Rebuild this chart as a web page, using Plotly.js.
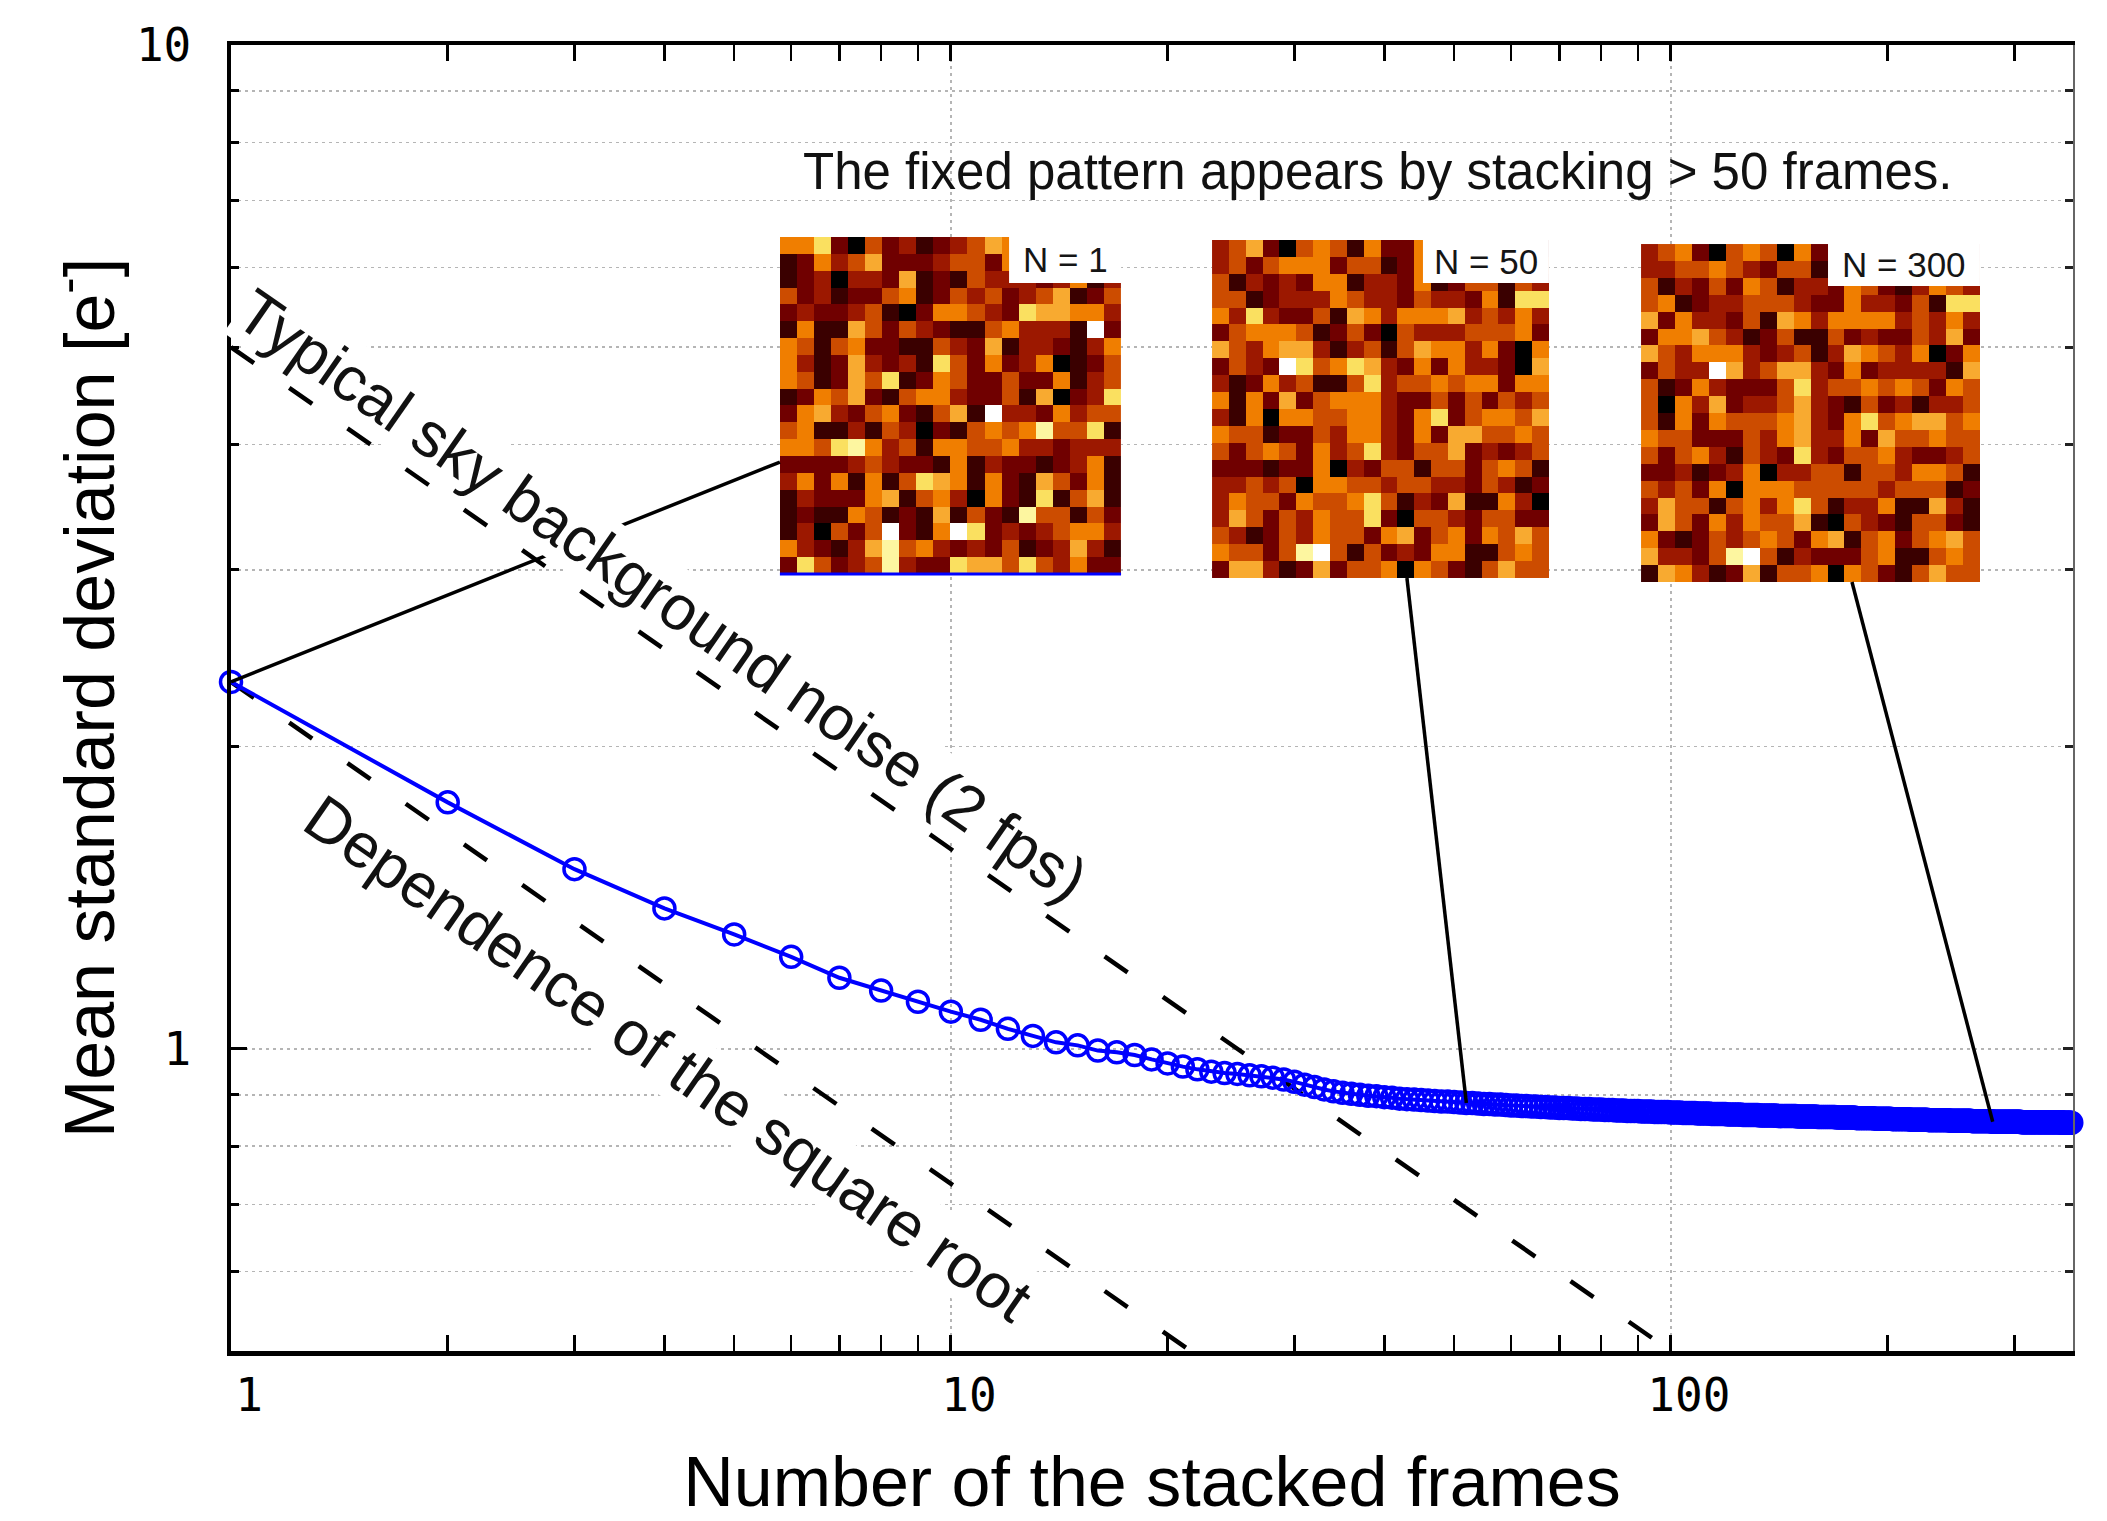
<!DOCTYPE html>
<html><head><meta charset="utf-8">
<script src="https://cdn.plot.ly/plotly-3.0.1.min.js"></script>
<style>html,body{margin:0;padding:0;background:#fff}#chart{width:2107px;height:1521px}</style>
</head><body><div id="chart"></div>
<script>
// ---------- data ----------
const meanStd = [
2.32,1.76,1.51,1.38,1.30,1.235,1.177,1.143,1.114,1.089,
1.069,1.047,1.030,1.015,1.008,0.996,0.992,0.986,0.976,0.967,
0.960,0.954,0.949,0.946,0.944,0.941,0.939,0.936,0.932,0.927,
0.921,0.916,0.911,0.907,0.904,0.902,0.900,0.898,0.897,0.895,
0.894,0.892,0.891,0.890,0.889,0.888,0.887,0.886,0.886,0.885,
0.884,0.883,0.883,0.882,0.881,0.881,0.880,0.880,0.879,0.878,
0.878,0.877,0.877,0.876,0.876,0.875,0.875,0.874,0.874,0.873,
0.873,0.873,0.872,0.872,0.871,0.871,0.871,0.870,0.870,0.870,
0.869,0.869,0.869,0.868,0.868,0.868,0.867,0.867,0.867,0.867,
0.866,0.866,0.866,0.866,0.865,0.865,0.865,0.865,0.865,0.864,
0.864,0.864,0.864,0.863,0.863,0.863,0.863,0.863,0.862,0.862,
0.862,0.862,0.862,0.861,0.861,0.861,0.861,0.861,0.861,0.860,
0.860,0.860,0.860,0.860,0.860,0.859,0.859,0.859,0.859,0.859,
0.859,0.859,0.858,0.858,0.858,0.858,0.858,0.858,0.858,0.858,
0.857,0.857,0.857,0.857,0.857,0.857,0.857,0.857,0.857,0.856,
0.856,0.856,0.856,0.856,0.856,0.856,0.856,0.856,0.856,0.855,
0.855,0.855,0.855,0.855,0.855,0.855,0.855,0.855,0.855,0.854,
0.854,0.854,0.854,0.854,0.854,0.854,0.854,0.854,0.854,0.854,
0.853,0.853,0.853,0.853,0.853,0.853,0.853,0.853,0.853,0.853,
0.853,0.852,0.852,0.852,0.852,0.852,0.852,0.852,0.852,0.852,
0.852,0.852,0.851,0.851,0.851,0.851,0.851,0.851,0.851,0.851,
0.851,0.851,0.851,0.851,0.850,0.850,0.850,0.850,0.850,0.850,
0.850,0.850,0.850,0.850,0.850,0.850,0.850,0.849,0.849,0.849,
0.849,0.849,0.849,0.849,0.849,0.849,0.849,0.849,0.849,0.849,
0.849,0.849,0.849,0.848,0.848,0.848,0.848,0.848,0.848,0.848,
0.848,0.848,0.848,0.848,0.848,0.848,0.848,0.848,0.848,0.848,
0.848,0.847,0.847,0.847,0.847,0.847,0.847,0.847,0.847,0.847,
0.847,0.847,0.847,0.847,0.847,0.847,0.847,0.847,0.847,0.846,
0.846,0.846,0.846,0.846,0.846,0.846,0.846,0.846,0.846,0.846,
0.846,0.846,0.846,0.846,0.846,0.846,0.846,0.846,0.846,0.846,
0.846,0.846,0.846,0.846,0.846,0.846,0.845,0.845,0.845,0.845,
0.845,0.845,0.845,0.845,0.845,0.845,0.845,0.845,0.845,0.845,
0.845,0.845,0.845,0.845,0.845,0.845,0.845,0.845,0.845,0.845,
0.845,0.845,0.845,0.845,0.845,0.845,0.845,0.845,0.845,0.845,
0.845,0.845,0.845,0.845,0.845,0.845,0.845,0.845,0.845,0.844,
0.844,0.844,0.844,0.844,0.844,0.844,0.844,0.844,0.844,0.844
];
const stackedFrames = meanStd.map((v, i) => i + 1);

// reference slopes (dashed): N^-1/2 lines, end points
const sqrtRefN = [1, 30];
const sqrtRefY = [2.32, 0.4236];
const skyRefN = [1, 120];
const skyRefY = [5.0, 0.4564];

// inset images (pixel levels 0=black ... 9=white, read by eye)
const imgN1 = [
"55720423123465433243","12534622234425424323","12303326121433323513","42312245124342346124",
"23223410255432766553","15116424321145333192","54145221143261332135","53126323174252350124",
"54126471254224225134","12546214553224160237","25632452146193325344","45113143021454584471",
"55478534155445332333","22223432215132212351","35251514765152164251","13222561453052171461",
"12115412161421844142","13042492159723234553","53213684532324123631","27423483227664743522"];
const imgN50 = [
"34620454152253243542","34245552441254323434","41323255133251244143","44123335433243325177",
"53732241653555634353","24555412420433344452","64356631341465535205","24329745763252533206",
"31253411473445455255","51526245553224242434","31505544553257245546","54412243553252664454",
"42454253473244623234","22212250324414424541","33434055443443324312","35442544574132611530",
"36424354472044324422","43124354425624525464","54424894142325511454","26631262445054214644"];
const imgN300 = [
"34520454052243354233","33445432441243423434","41324254133254213543","45123344432253324177",
"62533241653555534353","25564312411423224362","64355532341365435025","24339634663252333316",
"41253222473445454254","40536233463214231334","41525444563257456645","54422243563352644544",
"42453143273244532234","22312350334414435541","43425055544444344412","36441453574133511631",
"26425354461043214421","52124345425614524564","63324894132224511454","16531261445054214644"];
const imgLabels = ["N = 1", "N = 50", "N = 300"];

const xTickVals = [1, 10, 100];
const xTickText = ["1", "10", "100"];
const yTickVals = [1, 10];
const yTickText = ["1", "10"];
const xMinor = [2,3,4,5,6,7,8,9,20,30,40,50,60,70,80,90,200,300];
const yMinor = [0.6,0.7,0.8,0.9,2,3,4,5,6,7,8,9];

// ---------- layout constants ----------
const XR = [0, Math.log10(362)];
const YR = [Math.log10(0.5), 1];
const hotScale = [
 [0/9,'#000000'],[1/9,'#3a0000'],[2/9,'#700000'],[3/9,'#9c1800'],[4/9,'#cc4c00'],
 [5/9,'#f07e00'],[6/9,'#f8aa30'],[7/9,'#fae060'],[8/9,'#fdf6a0'],[9/9,'#ffffff']];
const parseImg = rows => rows.map(r => r.split('').map(Number));

const imgDom = [
  {x:[0.2980,0.4832], y:[0.5949,0.8530], box:[0.4224,0.4832,0.8178,0.8530]},
  {x:[0.5326,0.7155], y:[0.5919,0.8507], box:[0.6471,0.7155,0.8178,0.8507]},
  {x:[0.7655,0.9495], y:[0.5888,0.8476], box:[0.8670,0.9495,0.8155,0.8476]}
];
const imgs = [imgN1, imgN50, imgN300];

const FONT = 'Liberation Sans, Arial, Helvetica, sans-serif';
const MONO = 'DejaVu Sans Mono, monospace';

const traces = [
  {x: skyRefN, y: skyRefY, mode:'lines', line:{color:'#000', width:4.5, dash:'28px,43px'}, hoverinfo:'skip', showlegend:false},
  {x: sqrtRefN, y: sqrtRefY, mode:'lines', line:{color:'#000', width:4.5, dash:'28px,43px'}, hoverinfo:'skip', showlegend:false},
  {x: stackedFrames, y: meanStd, mode:'lines+markers', cliponaxis:false,
   line:{color:'#0000ff', width:4},
   marker:{symbol:'circle-open', size:21, color:'#0000ff', line:{width:3.5, color:'#0000ff'}},
   showlegend:false},
  {x:[1], y:[1], yaxis:'y2', mode:'none', hoverinfo:'skip', showlegend:false}
];
imgs.forEach((im, k) => {
  traces.push({type:'heatmap', z: parseImg(im), xaxis:'x'+(k+3), yaxis:'y'+(k+3),
    colorscale: hotScale, zmin:0, zmax:9, showscale:false, hoverinfo:'skip'});
});

const shapes = [];
const annotations = [];
const px = v => (Math.log10(v) - XR[0]) / (XR[1] - XR[0]);
const py = v => (Math.log10(v) - YR[0]) / (YR[1] - YR[0]);
// connectors from curve points to insets (paper coords)
const conn = [
  {n:1, end:[0.2980, 0.6807]},
  {n:52, end:[0.6384, 0.5919]},
  {n:280, end:[0.8800, 0.5888]}
];
conn.forEach(c => {
  shapes.push({type:'line', xref:'paper', yref:'paper', layer:'above',
    x0: px(stackedFrames[c.n-1]), y0: py(meanStd[c.n-1]),
    x1: c.end[0], y1: c.end[1], line:{color:'#000', width:3.5}});
});
shapes.push({type:'line', xref:'paper', yref:'paper', layer:'above', x0:imgDom[0].x[0], x1:imgDom[0].x[1],
  y0:imgDom[0].y[0], y1:imgDom[0].y[0], line:{color:'#0000ff', width:3}});
imgDom.forEach((d, k) => {
  shapes.push({type:'rect', xref:'paper', yref:'paper', layer:'above',
    x0:d.box[0], x1:d.box[1], y0:d.box[2], y1:d.box[3], fillcolor:'#fff', line:{width:0}});
  annotations.push({xref:'paper', yref:'paper', x:(d.box[0]+d.box[1])/2, y:(d.box[2]+d.box[3])/2,
    text: imgLabels[k], showarrow:false, xanchor:'center', yanchor:'middle',
    font:{family:FONT, size:35, color:'#151515'}});
});

annotations.push({xref:'paper', yref:'paper', x:0.6227, y:0.9035, xanchor:'center', yanchor:'middle',
  text:'The fixed pattern appears by stacking &gt; 50 frames.',
  showarrow:false, font:{family:FONT, size:51, color:'#111'}});
annotations.push({xref:'paper', yref:'paper', x:0.234, y:0.579, xanchor:'center', yanchor:'middle',
  text:'Typical sky background noise (2 fps)',
  textangle:34.86, showarrow:false, bgcolor:'#fff', borderpad:0, font:{family:FONT, size:63, color:'#111'}});
annotations.push({xref:'paper', yref:'paper', x:0.2375, y:0.2243, xanchor:'center', yanchor:'middle',
  text:'Dependence of the square root',
  textangle:34.86, showarrow:false, bgcolor:'#fff', borderpad:0, font:{family:FONT, size:63, color:'#111'}});

const layout = {
  width:2107, height:1521,
  margin:{l:231, r:34, t:45, b:170},
  paper_bgcolor:'#fff', plot_bgcolor:'#fff',
  showlegend:false,
  font:{family:FONT, color:'#000'},
  xaxis:{type:'log', range:XR, tickmode:'array', tickvals:xTickVals, ticktext:xTickText,
    ticks:'inside', ticklen:16, tickwidth:3, tickcolor:'#000',
    showline:true, linecolor:'#000', linewidth:4.5, mirror:'allticks',
    showgrid:true, gridcolor:'#b5b5b5', gridwidth:1.5, griddash:'3px,4px',
    ticklabelshift:18, ticklabelstandoff:0,
    tickfont:{family:MONO, size:46, color:'#000'},
    minor:{tickmode:'array', tickvals:xMinor, ticks:'inside', ticklen:8, tickwidth:2.5, tickcolor:'#000', showgrid:false},
    title:{text:'Number of the stacked frames', font:{family:FONT, size:70, color:'#000'}, standoff:38},
    zeroline:false},
  yaxis:{type:'log', range:YR, tickmode:'array', tickvals:yTickVals, ticktext:yTickText,
    ticks:'inside', ticklen:16, tickwidth:3, tickcolor:'#000',
    showline:true, linecolor:'#000', linewidth:4.5, mirror:false,
    showgrid:true, gridcolor:'#b5b5b5', gridwidth:1.5, griddash:'3px,4px',
    ticklabelstandoff:26,
    tickfont:{family:MONO, size:46, color:'#000'},
    minor:{tickmode:'array', tickvals:yMinor, ticks:'inside', ticklen:8, tickwidth:3, tickcolor:'#000',
      showgrid:true, gridcolor:'#b5b5b5', gridwidth:1.5, griddash:'3px,4px'},
    title:{text:'Mean standard deviation [e<sup>-</sup>]', font:{family:FONT, size:70, color:'#000'}, standoff:0},
    zeroline:false},
  yaxis2:{type:'log', range:YR, overlaying:'y', side:'right', tickmode:'array', tickvals:yTickVals,
    showticklabels:false, ticks:'inside', ticklen:10, tickwidth:3, tickcolor:'#222',
    showline:true, linecolor:'#666', linewidth:2, showgrid:false, zeroline:false,
    minor:{tickmode:'array', tickvals:yMinor, ticks:'inside', ticklen:8, tickwidth:3, tickcolor:'#222', showgrid:false}},
  shapes: shapes,
  annotations: annotations
};
imgDom.forEach((d, k) => {
  layout['xaxis'+(k+3)] = {domain:d.x, anchor:'y'+(k+3), range:[-0.5,19.5], visible:false, fixedrange:true};
  layout['yaxis'+(k+3)] = {domain:d.y, anchor:'x'+(k+3), range:[19.5,-0.5], visible:false, fixedrange:true};
});

Plotly.newPlot('chart', traces, layout, {displayModeBar:false, staticPlot:true});
</script>
</body></html>
